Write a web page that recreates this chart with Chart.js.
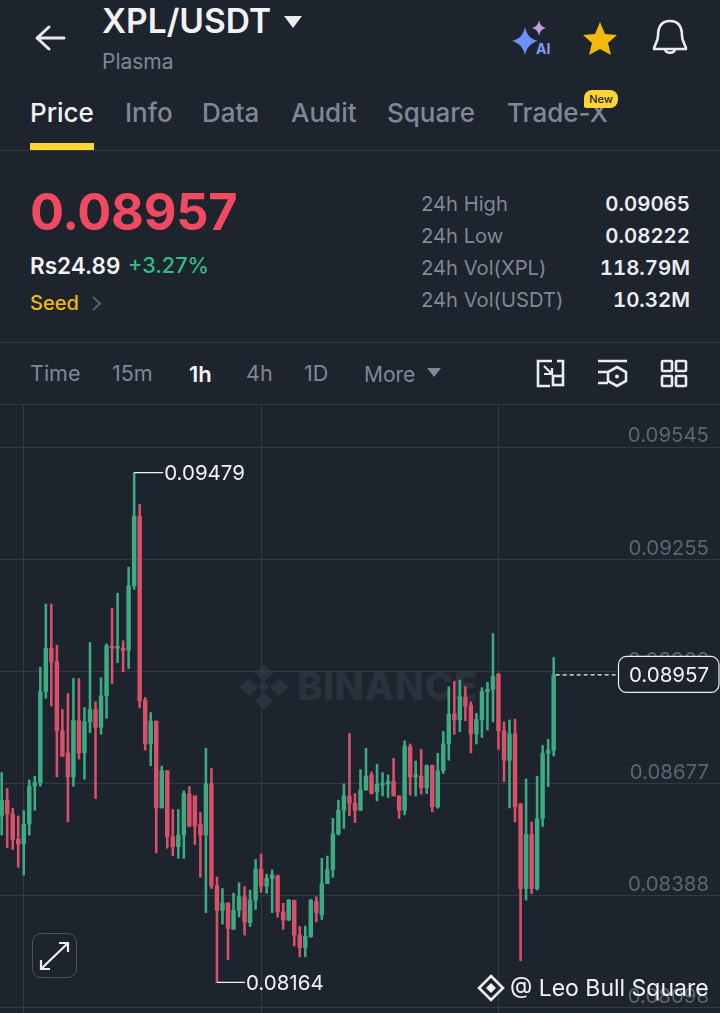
<!DOCTYPE html>
<html><head><meta charset="utf-8">
<script src="https://cdn.jsdelivr.net/npm/chart.js@4"></script>
<style>
html,body{margin:0;padding:0;background:#1e242e;}
body{width:720px;height:1013px;position:relative;overflow:hidden;font-family:Inter,Roboto,sans-serif;color:#eaecef;}
.t{position:absolute;white-space:nowrap;line-height:1;transform:translateY(-50%);}
.g{color:#7f8895;}
.r{right:30px;text-align:right;font-weight:600;font-size:20.4px;color:#eaecef;font-variant-numeric:tabular-nums;}
.hr{position:absolute;left:0;width:720px;height:1px;background:#303743;}
svg{position:absolute;overflow:visible;}
canvas{position:absolute;left:0;top:404px;}
</style></head><body>

<svg style="left:0;top:0" width="720" height="160" fill="none">
  <path d="M64 38H37M37 38L49 27M37 38L49 49" stroke="#eaecef" stroke-width="3" stroke-linecap="round"/>
  <path d="M284 16H302L293 28Z" fill="#eaecef"/>
  <path d="M525 27C527 36 531 39 538 41C531 43 527 47 525 55C523 47 519 43 512 41C519 39 523 36 525 27Z" fill="#6f8ffb"/>
  <path d="M539 20C540 25 542 27 546 28C542 29 540 31 539 36C538 31 536 29 532 28C536 27 538 25 539 20Z" fill="#c79ae0"/>
  <path d="M600 22L605 34L617 35L608 43L611 55L600 49L589 55L592 43L583 35L595 34Z" fill="#f0b90b"/>
  <path d="M670 21C679 21 682 28 682 36C682 42 686 45 686 49H654C654 45 658 42 658 36C658 28 661 21 670 21Z" stroke="#eaecef" stroke-width="2.6" stroke-linejoin="round"/>
  <path d="M665 49C665 54 675 54 675 49" stroke="#eaecef" stroke-width="2.6"/>
</svg>
<div class="t" style="left:102px;top:22px;font-size:33.5px;font-weight:600;color:#f1f2f4">XPL/USDT</div>
<div class="t" style="left:536px;top:49px;font-size:14px;font-weight:700;color:#7f9cf5">AI</div>
<div class="t g" style="left:102px;top:61px;font-size:21px">Plasma</div>

<div class="t" style="left:30px;top:113px;font-size:26px;font-weight:500;color:#f1f2f4">Price</div>
<div class="t g" style="left:125px;top:113px;font-size:26px;font-weight:500">Info</div>
<div class="t g" style="left:202px;top:113px;font-size:26px;font-weight:500">Data</div>
<div class="t g" style="left:291px;top:113px;font-size:26px;font-weight:500">Audit</div>
<div class="t g" style="left:387px;top:113px;font-size:26px;font-weight:500">Square</div>
<div class="t g" style="left:507px;top:113px;font-size:26px;font-weight:500">Trade-X</div>
<div style="position:absolute;left:584px;top:90px;width:34px;height:18px;border-radius:8px 8px 8px 2px;background:#fcd535;color:#1e2329;font-size:11px;font-weight:500;text-align:center;line-height:18px">New</div>
<div style="position:absolute;left:30px;top:143px;width:64px;height:7px;background:#fcd535"></div>
<div class="hr" style="top:150px"></div>

<div class="t" style="left:30px;top:212px;font-size:50.5px;font-weight:700;color:#ef4a60;letter-spacing:-.3px">0.08957</div>
<div class="t" style="left:30px;top:266px;font-size:22.5px;font-weight:600;color:#f1f2f4">Rs24.89</div>
<div class="t" style="left:128px;top:266px;font-size:21.6px;font-weight:500;color:#2ebd85">+3.27%</div>
<div class="t" style="left:30px;top:303px;font-size:20px;font-weight:500;color:#f0b90b">Seed</div>
<svg style="left:0;top:290px" width="120" height="30" fill="none"><path d="M93 7L100 13.5L93 20" stroke="#59616d" stroke-width="2"/></svg>

<div class="t g" style="left:421px;top:204px;font-size:20.2px">24h High</div>
<div class="t g" style="left:421px;top:236px;font-size:20.2px">24h Low</div>
<div class="t g" style="left:421px;top:268px;font-size:20.2px">24h Vol(XPL)</div>
<div class="t g" style="left:421px;top:300px;font-size:20.2px">24h Vol(USDT)</div>
<div class="t r" style="top:204px">0.09065</div>
<div class="t r" style="top:236px">0.08222</div>
<div class="t r" style="top:268px">118.79M</div>
<div class="t r" style="top:300px">10.32M</div>

<div class="hr" style="top:342px"></div>
<div class="t g" style="left:30px;top:374px;font-size:21.5px">Time</div>
<div class="t g" style="left:112px;top:374px;font-size:21.5px">15m</div>
<div class="t" style="left:189px;top:374px;font-size:22px;font-weight:600;color:#f1f2f4">1h</div>
<div class="t g" style="left:246px;top:374px;font-size:21.5px">4h</div>
<div class="t g" style="left:304px;top:374px;font-size:21.5px">1D</div>
<div class="t g" style="left:364px;top:374px;font-size:21px">More</div>
<svg style="left:0;top:345px" width="720" height="58" fill="none" stroke="#eaecef" stroke-width="2.6">
  <path d="M427 23H441L434 32Z" fill="#7f8895" stroke="none"/>
  <path d="M552 16H538V41H550M563 30V16H557"/>
  <path d="M544 21L552 29M544 29H552V23" stroke-width="2.2"/>
  <rect x="553" y="31" width="10" height="9" />
  <path d="M598 16H627M598 27H608M598 38H608"/>
  <path d="M617 22L626 27V36L617 41L608 36V27Z"/>
  <circle cx="617" cy="31.5" r="2" fill="#eaecef" stroke="none"/>
  <rect x="662" y="16" width="10" height="10" rx="1"/><rect x="676" y="16" width="10" height="10" rx="1"/>
  <rect x="662" y="31" width="10" height="10" rx="1"/><rect x="676" y="31" width="10" height="10" rx="1"/>
</svg>
<div class="hr" style="top:404px"></div>

<svg style="left:240px;top:664px" width="48" height="46" fill="#2b323d">
  <path d="M24 0L33 9L24 18L15 9Z"/><path d="M9 14L18 23L9 32L0 23Z"/><path d="M39 14L48 23L39 32L30 23Z"/>
  <path d="M24 18L29 23L24 28L19 23Z"/><path d="M24 28L33 37L24 46L15 37Z"/>
</svg>
<div class="t" style="left:297px;top:686px;font-size:38.5px;font-weight:800;color:#2b323d;letter-spacing:.5px">BINANCE</div>

<canvas id="chart" width="720" height="609"></canvas>

<div style="position:absolute;left:32px;top:933px;width:43px;height:43px;border:1.5px solid #4a515d;border-radius:9px;background:#1e242e"></div>
<svg style="left:32px;top:933px" width="46" height="46" fill="none" stroke="#eaecef" stroke-width="2.2">
  <path d="M9 36L36 10M27 10H36V19M9 27V36H18"/>
</svg>
<svg style="left:477px;top:974px" width="28" height="28" fill="none" stroke="#f1f2f4" stroke-width="2.6">
  <path d="M14 2L26 14L14 26L2 14Z"/><path d="M14 9L19 14L14 19L9 14Z" fill="#f1f2f4" stroke="none"/>
</svg>
<div class="t" style="left:510px;top:988px;font-size:23px;color:#f1f2f4">@ Leo Bull Square</div>

<script>
const yTickValues=[0.09545,0.09255,0.08966,0.08677,0.08388,0.08098];
const timeGridCandles=[4,47,90];
const lastPrice=0.08957;
const highLabel=0.09479, lowLabel=0.08164;

const opens=[0.08593,0.08634,0.08598,0.08533,0.08521,0.08572,0.08670,0.08679,0.08914,0.09026,
0.08991,0.08813,0.08756,0.08694,0.08839,0.08756,0.08836,0.08868,0.08822,0.08903,
0.09030,0.09026,0.09026,0.09021,0.09187,0.09367,0.08891,0.08779,0.08838,0.08614,
0.08710,0.08540,0.08514,0.08544,0.08650,0.08645,0.08572,0.08544,0.08676,0.08413,
0.08350,0.08369,0.08301,0.08350,0.08385,0.08318,0.08376,0.08456,0.08412,0.08432,
0.08439,0.08346,0.08325,0.08376,0.08286,0.08254,0.08282,0.08372,0.08338,0.08419,
0.08455,0.08547,0.08608,0.08645,0.08626,0.08608,0.08660,0.08699,0.08656,0.08673,
0.08676,0.08682,0.08645,0.08608,0.08772,0.08694,0.08696,0.08666,0.08723,0.08617,
0.08710,0.08779,0.08856,0.08841,0.08899,0.08879,0.08805,0.08842,0.08914,0.08920,
0.08959,0.08813,0.08737,0.08805,0.08624,0.08406,0.08546,0.08406,0.08587,0.08755,
0.08763];
const closes=[0.08634,0.08598,0.08533,0.08521,0.08572,0.08670,0.08679,0.08914,0.09026,0.08991,
0.08813,0.08748,0.08694,0.08839,0.08756,0.08836,0.08868,0.08822,0.08903,0.09032,
0.09026,0.09030,0.09020,0.09187,0.09367,0.08891,0.08779,0.08838,0.08614,0.08710,
0.08540,0.08514,0.08544,0.08651,0.08567,0.08567,0.08544,0.08676,0.08413,0.08350,
0.08369,0.08303,0.08350,0.08385,0.08320,0.08376,0.08456,0.08412,0.08432,0.08441,
0.08346,0.08325,0.08376,0.08286,0.08254,0.08282,0.08376,0.08344,0.08419,0.08455,
0.08547,0.08608,0.08645,0.08626,0.08608,0.08660,0.08696,0.08651,0.08675,0.08677,
0.08682,0.08645,0.08608,0.08774,0.08694,0.08696,0.08666,0.08723,0.08617,0.08710,
0.08779,0.08856,0.08841,0.08901,0.08877,0.08805,0.08842,0.08914,0.08920,0.08954,
0.08813,0.08737,0.08805,0.08617,0.08406,0.08546,0.08406,0.08587,0.08755,0.08763,
0.08957];
const highs=[0.08705,0.08664,0.08613,0.08593,0.08607,0.08686,0.08696,0.08977,0.09140,0.09140,
0.09034,0.08868,0.08909,0.08948,0.08948,0.08873,0.09041,0.08888,0.08950,0.09037,
0.09129,0.09168,0.09045,0.09235,0.09479,0.09397,0.08899,0.08860,0.08838,0.08722,
0.08710,0.08610,0.08610,0.08658,0.08669,0.08645,0.08602,0.08768,0.08716,0.08436,
0.08406,0.08369,0.08394,0.08421,0.08411,0.08402,0.08481,0.08495,0.08443,0.08454,
0.08441,0.08368,0.08378,0.08376,0.08308,0.08309,0.08378,0.08385,0.08484,0.08490,
0.08587,0.08634,0.08676,0.08806,0.08651,0.08713,0.08768,0.08707,0.08727,0.08705,
0.08699,0.08742,0.08645,0.08787,0.08779,0.08735,0.08765,0.08725,0.08725,0.08755,
0.08811,0.08927,0.08941,0.08944,0.08927,0.08888,0.08858,0.08924,0.08938,0.09064,
0.08961,0.08836,0.08841,0.08843,0.08626,0.08689,0.08578,0.08696,0.08775,0.08791,
0.09002];
const lows=[0.08544,0.08511,0.08507,0.08461,0.08441,0.08544,0.08608,0.08670,0.08897,0.08877,
0.08694,0.08746,0.08578,0.08670,0.08740,0.08688,0.08808,0.08638,0.08804,0.08845,
0.08935,0.08989,0.08965,0.08974,0.09178,0.08872,0.08763,0.08723,0.08498,0.08614,
0.08510,0.08491,0.08484,0.08484,0.08565,0.08520,0.08435,0.08344,0.08406,0.08164,
0.08314,0.08223,0.08301,0.08333,0.08286,0.08308,0.08352,0.08396,0.08394,0.08344,
0.08332,0.08301,0.08323,0.08258,0.08230,0.08230,0.08280,0.08320,0.08326,0.08419,
0.08435,0.08544,0.08561,0.08594,0.08576,0.08607,0.08660,0.08650,0.08632,0.08645,
0.08641,0.08645,0.08587,0.08596,0.08647,0.08645,0.08650,0.08651,0.08604,0.08613,
0.08703,0.08737,0.08804,0.08811,0.08839,0.08756,0.08779,0.08796,0.08815,0.08836,
0.08765,0.08682,0.08614,0.08578,0.08220,0.08376,0.08393,0.08402,0.08566,0.08669,
0.08748];

const UP='#3bab84', DOWN='#d9506a', GRID='#333a46', LABEL='#5c6470';
const candleColors=closes.map((c,i)=>c>=opens[i]?UP:DOWN);

const annotations={
  id:'annotations',
  afterDraw(chart){
    const {ctx,scales:{x,y}}=chart;
    ctx.save();
    ctx.font='400 20.5px Inter, Roboto, sans-serif';
    ctx.textBaseline='middle';
    ctx.fillStyle='#f1f2f4'; ctx.strokeStyle='#f1f2f4'; ctx.lineWidth=1.2;
    const hi=highs.indexOf(highLabel), lo=lows.indexOf(lowLabel);
    const hy=y.getPixelForValue(highLabel), ly=y.getPixelForValue(lowLabel);
    const hx=x.getPixelForValue(hi), lx=x.getPixelForValue(lo);
    ctx.beginPath();ctx.moveTo(hx,hy);ctx.lineTo(hx+29,hy);ctx.moveTo(lx,ly);ctx.lineTo(lx+28,ly);ctx.stroke();
    ctx.textAlign='left';
    ctx.fillText(highLabel.toFixed(5),hx+30,hy+1);
    ctx.fillText(lowLabel.toFixed(5),lx+29,ly+1);
    const py=y.getPixelForValue(lastPrice), px=x.getPixelForValue(closes.length-1);
    ctx.setLineDash([4,3]);
    ctx.beginPath();ctx.moveTo(px+2,py);ctx.lineTo(618,py);ctx.stroke();
    ctx.setLineDash([]);
    ctx.beginPath();ctx.roundRect(618.5,py-18.5,100.5,36,8);
    ctx.fillStyle='#1e242e';ctx.fill();ctx.stroke();
    ctx.fillStyle='#f1f2f4';ctx.textAlign='center';
    ctx.fillText(lastPrice.toFixed(5),669,py+0.5);
    ctx.restore();
  }
};

new Chart(document.getElementById('chart'),{
  type:'bar',
  data:{datasets:[
    {label:'Range',data:highs.map((h,i)=>({x:i,y:[lows[i],h]})),backgroundColor:candleColors,barThickness:1.9,grouped:false,order:2},
    {label:'Open-Close',data:closes.map((c,i)=>({x:i,y:[opens[i],c]})),backgroundColor:candleColors,barThickness:3.8,grouped:false,minBarLength:2,order:1}
  ]},
  options:{
    responsive:false,animation:false,
    layout:{padding:0},
    plugins:{legend:{display:false},tooltip:{enabled:false}},
    scales:{
      x:{type:'linear',min:-0.3025,max:130.13,offset:false,
        afterBuildTicks(s){s.ticks=timeGridCandles.map(v=>({value:v}));},
        ticks:{display:false},border:{display:false},
        grid:{color:GRID,lineWidth:1,drawTicks:false,offset:false}},
      y:{type:'linear',position:'right',min:0.08085,max:0.09656,
        afterBuildTicks(s){s.ticks=yTickValues.map(v=>({value:v}));},
        afterFit(s){s.paddingTop=0;s.paddingBottom=0;s.width=0;},
        border:{display:false},
        grid:{color:GRID,lineWidth:1,drawTicks:false},
        ticks:{mirror:true,padding:-11,labelOffset:-11,color:LABEL,autoSkip:false,
          font:{family:'Inter, Roboto, sans-serif',size:20.4,weight:'400'},
          callback:v=>v.toFixed(5)}}
    }
  },
  plugins:[annotations]
});
</script>
</body></html>
